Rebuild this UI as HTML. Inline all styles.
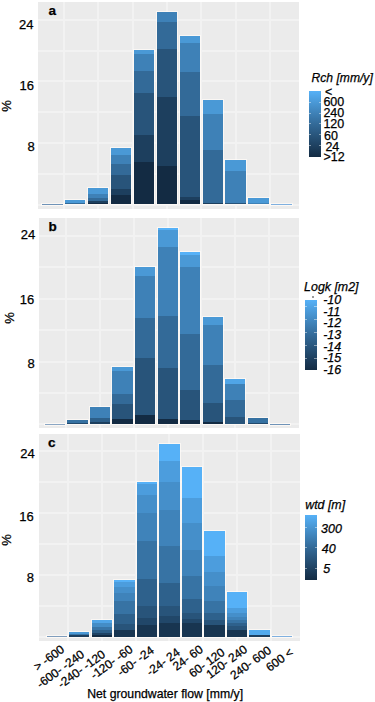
<!DOCTYPE html><html><head><meta charset="utf-8"><style>
html,body{margin:0;padding:0;background:#fff;}
body{width:375px;height:702px;position:relative;overflow:hidden;font-family:"Liberation Sans", sans-serif;color:#000;}
.a{position:absolute;}
.pn{position:absolute;background:#ebebeb;}
.gh{position:absolute;height:2px;background:#f2f2f2;}
.gv{position:absolute;width:2px;background:#f2f2f2;}
.t{position:absolute;white-space:nowrap;line-height:1;-webkit-text-stroke:0.25px #000;}
.bar{box-shadow:0 0 0 1px rgba(255,251,247,0.75);}
</style></head><body>
<div class="pn" style="left:38.4px;top:2.3px;width:260.9px;height:206.6px"></div>
<div class="gh" style="left:38.4px;top:203.5px;width:260.9px"></div>
<div class="gh" style="left:38.4px;top:172.74px;width:260.9px"></div>
<div class="gh" style="left:38.4px;top:141.98px;width:260.9px"></div>
<div class="gh" style="left:38.4px;top:111.22px;width:260.9px"></div>
<div class="gh" style="left:38.4px;top:80.46px;width:260.9px"></div>
<div class="gh" style="left:38.4px;top:49.7px;width:260.9px"></div>
<div class="gh" style="left:38.4px;top:18.94px;width:260.9px"></div>
<div class="gv" style="left:62.68px;top:2.3px;height:206.6px"></div>
<div class="gv" style="left:97.1px;top:2.3px;height:206.6px"></div>
<div class="gv" style="left:131.53px;top:2.3px;height:206.6px"></div>
<div class="gv" style="left:165.95px;top:2.3px;height:206.6px"></div>
<div class="gv" style="left:200.38px;top:2.3px;height:206.6px"></div>
<div class="gv" style="left:234.8px;top:2.3px;height:206.6px"></div>
<div class="gv" style="left:269.23px;top:2.3px;height:206.6px"></div>
<div class="a bar" style="left:41.88px;top:203.6px;width:20.65px;height:0.9px;background:#6f93b8"></div>
<div class="a bar" style="left:64.83px;top:199.7px;width:20.65px;height:4.8px;background:linear-gradient(to bottom,#4a99d6 0.0px 2.6px,#336a98 2.6px 3.7px,#132b43 3.7px 4.8px)"></div>
<div class="a bar" style="left:87.77px;top:187.9px;width:20.65px;height:16.6px;background:linear-gradient(to bottom,#4a99d6 0.0px 5.9px,#3e81b7 5.9px 9.7px,#336a98 9.7px 13.0px,#1d3f5e 13.0px 14.7px,#132b43 14.7px 16.6px)"></div>
<div class="a bar" style="left:110.72px;top:148.1px;width:20.65px;height:56.4px;background:linear-gradient(to bottom,#4a99d6 0.0px 7.3px,#3e81b7 7.3px 16.0px,#336a98 16.0px 27.3px,#28547a 27.3px 41.5px,#1d3f5e 41.5px 47.4px,#132b43 47.4px 56.4px)"></div>
<div class="a bar" style="left:133.68px;top:50.4px;width:20.65px;height:154.1px;background:linear-gradient(to bottom,#4a99d6 0.0px 4.5px,#3e81b7 4.5px 20.6px,#336a98 20.6px 43.0px,#28547a 43.0px 84.6px,#1d3f5e 84.6px 111.6px,#132b43 111.6px 154.1px)"></div>
<div class="a bar" style="left:156.62px;top:11.7px;width:20.65px;height:192.8px;background:linear-gradient(to bottom,#3e81b7 0.0px 10.1px,#336a98 10.1px 36.7px,#28547a 36.7px 85.3px,#1d3f5e 85.3px 154.2px,#132b43 154.2px 192.8px)"></div>
<div class="a bar" style="left:179.57px;top:35.6px;width:20.65px;height:168.9px;background:linear-gradient(to bottom,#4a99d6 0.0px 7.2px,#3e81b7 7.2px 36.1px,#336a98 36.1px 80.0px,#28547a 80.0px 161.0px,#1d3f5e 161.0px 163.8px,#132b43 163.8px 168.9px)"></div>
<div class="a bar" style="left:202.53px;top:99.6px;width:20.65px;height:104.9px;background:linear-gradient(to bottom,#4a99d6 0.0px 13.6px,#3e81b7 13.6px 50.2px,#336a98 50.2px 103.2px,#1d3f5e 103.2px 104.9px)"></div>
<div class="a bar" style="left:225.48px;top:160.3px;width:20.65px;height:44.2px;background:linear-gradient(to bottom,#4a99d6 0.0px 11.4px,#3e81b7 11.4px 43.0px,#28547a 43.0px 44.2px)"></div>
<div class="a bar" style="left:248.43px;top:197.9px;width:20.65px;height:6.6px;background:linear-gradient(to bottom,#4a99d6 0.0px 5.4px,#3e81b7 5.4px 6.6px)"></div>
<div class="a bar" style="left:271.38px;top:203.6px;width:20.65px;height:0.9px;background:#7fb0e0"></div>
<div class="t" style="left:48.5px;top:3.7px;font-size:13.5px;font-weight:bold;color:#000">a</div>
<div class="t" style="right:341.6px;top:17.5px;font-size:13px;color:#000">24</div>
<div class="t" style="right:341.1px;top:79.1px;font-size:13px;color:#000">16</div>
<div class="t" style="right:340.3px;top:139.9px;font-size:13px;color:#000">8</div>
<div class="t" style="left:5.6px;top:106.3px;font-size:13px;transform:translate(-50%,-50%) rotate(-90deg);color:#000">%</div>
<div class="pn" style="left:38.6px;top:217.8px;width:260.2px;height:210.7px"></div>
<div class="gh" style="left:38.6px;top:423.3px;width:260.2px"></div>
<div class="gh" style="left:38.6px;top:391.9px;width:260.2px"></div>
<div class="gh" style="left:38.6px;top:360.5px;width:260.2px"></div>
<div class="gh" style="left:38.6px;top:329.1px;width:260.2px"></div>
<div class="gh" style="left:38.6px;top:297.7px;width:260.2px"></div>
<div class="gh" style="left:38.6px;top:266.3px;width:260.2px"></div>
<div class="gh" style="left:38.6px;top:234.9px;width:260.2px"></div>
<div class="gv" style="left:65.31px;top:217.8px;height:210.7px"></div>
<div class="gv" style="left:99.09px;top:217.8px;height:210.7px"></div>
<div class="gv" style="left:132.87px;top:217.8px;height:210.7px"></div>
<div class="gv" style="left:166.65px;top:217.8px;height:210.7px"></div>
<div class="gv" style="left:200.43px;top:217.8px;height:210.7px"></div>
<div class="gv" style="left:234.21px;top:217.8px;height:210.7px"></div>
<div class="gv" style="left:267.99px;top:217.8px;height:210.7px"></div>
<div class="a bar" style="left:44.91px;top:423.5px;width:20.27px;height:0.8px;background:#8aa6c4"></div>
<div class="a bar" style="left:67.43px;top:419.6px;width:20.27px;height:4.7px;background:linear-gradient(to bottom,#3671a1 0.0px 2.9px,#22496c 2.9px 4.7px)"></div>
<div class="a bar" style="left:89.95px;top:407.1px;width:20.27px;height:17.2px;background:linear-gradient(to bottom,#3e81b7 0.0px 10.7px,#2d5f89 10.7px 14.7px,#1d3f5e 14.7px 17.2px)"></div>
<div class="a bar" style="left:112.47px;top:366.8px;width:20.27px;height:57.5px;background:linear-gradient(to bottom,#4a99d6 0.0px 4.3px,#3e81b7 4.3px 26.6px,#336a98 26.6px 37.3px,#28547a 37.3px 52.3px,#132b43 52.3px 57.5px)"></div>
<div class="a bar" style="left:135.0px;top:267.0px;width:20.27px;height:157.3px;background:linear-gradient(to bottom,#4a99d6 0.0px 8.7px,#3e81b7 8.7px 51.1px,#336a98 51.1px 91.2px,#28547a 91.2px 148.2px,#132b43 148.2px 157.3px)"></div>
<div class="a bar" style="left:157.51px;top:227.6px;width:20.27px;height:196.7px;background:linear-gradient(to bottom,#56b1f7 0.0px 2.1px,#4a99d6 2.1px 18.8px,#3e81b7 18.8px 88.3px,#336a98 88.3px 140.4px,#28547a 140.4px 190.8px,#132b43 190.8px 196.7px)"></div>
<div class="a bar" style="left:180.04px;top:251.5px;width:20.27px;height:172.8px;background:linear-gradient(to bottom,#56b1f7 0.0px 3.0px,#4a99d6 3.0px 15.2px,#3e81b7 15.2px 81.6px,#336a98 81.6px 138.5px,#28547a 138.5px 167.9px,#132b43 167.9px 172.8px)"></div>
<div class="a bar" style="left:202.56px;top:316.7px;width:20.27px;height:107.6px;background:linear-gradient(to bottom,#4a99d6 0.0px 7.6px,#3e81b7 7.6px 48.0px,#336a98 48.0px 85.9px,#28547a 85.9px 105.3px,#132b43 105.3px 107.6px)"></div>
<div class="a bar" style="left:225.07px;top:378.7px;width:20.27px;height:45.6px;background:linear-gradient(to bottom,#50a5e7 0.0px 5.3px,#3e81b7 5.3px 21.3px,#336a98 21.3px 38.2px,#28547a 38.2px 45.6px)"></div>
<div class="a bar" style="left:247.6px;top:417.6px;width:20.27px;height:6.7px;background:linear-gradient(to bottom,#3671a1 0.0px 4.9px,#22496c 4.9px 6.7px)"></div>
<div class="a bar" style="left:270.12px;top:423.6px;width:20.27px;height:0.7px;background:#6f93b8"></div>
<div class="t" style="left:48.5px;top:220.1px;font-size:13.5px;font-weight:bold;color:#000">b</div>
<div class="t" style="right:339.8px;top:228.0px;font-size:13px;color:#000">24</div>
<div class="t" style="right:340.8px;top:292.5px;font-size:13px;color:#000">16</div>
<div class="t" style="right:340.3px;top:357.0px;font-size:13px;color:#000">8</div>
<div class="t" style="left:9.4px;top:318.1px;font-size:13px;transform:translate(-50%,-50%) rotate(-90deg);color:#000">%</div>
<div class="pn" style="left:39.3px;top:434.2px;width:260.3px;height:207.1px"></div>
<div class="gh" style="left:39.3px;top:635.6px;width:260.3px"></div>
<div class="gh" style="left:39.3px;top:604.72px;width:260.3px"></div>
<div class="gh" style="left:39.3px;top:573.84px;width:260.3px"></div>
<div class="gh" style="left:39.3px;top:542.96px;width:260.3px"></div>
<div class="gh" style="left:39.3px;top:512.08px;width:260.3px"></div>
<div class="gh" style="left:39.3px;top:481.2px;width:260.3px"></div>
<div class="gh" style="left:39.3px;top:450.32px;width:260.3px"></div>
<div class="gv" style="left:67.02px;top:434.2px;height:207.1px"></div>
<div class="gv" style="left:100.83px;top:434.2px;height:207.1px"></div>
<div class="gv" style="left:134.64px;top:434.2px;height:207.1px"></div>
<div class="gv" style="left:168.45px;top:434.2px;height:207.1px"></div>
<div class="gv" style="left:202.26px;top:434.2px;height:207.1px"></div>
<div class="gv" style="left:236.07px;top:434.2px;height:207.1px"></div>
<div class="gv" style="left:269.88px;top:434.2px;height:207.1px"></div>
<div class="a bar" style="left:46.61px;top:635.7px;width:20.29px;height:0.9px;background:#7f9dbd"></div>
<div class="a bar" style="left:69.14px;top:631.8px;width:20.29px;height:4.8px;background:linear-gradient(to bottom,#4a99d6 0.0px 1.7px,#3875a7 1.7px 3.2px,#1d3f5e 3.2px 4.8px)"></div>
<div class="a bar" style="left:91.69px;top:620.0px;width:20.29px;height:16.6px;background:linear-gradient(to bottom,#50a5e7 0.0px 3.0px,#448dc6 3.0px 6.5px,#3875a7 6.5px 9.5px,#2d5f89 9.5px 12.5px,#1f4364 12.5px 14.8px,#132b43 14.8px 16.6px)"></div>
<div class="a bar" style="left:114.23px;top:580.1px;width:20.29px;height:56.5px;background:linear-gradient(to bottom,#56b1f7 0.0px 2.4px,#4c9ddd 2.4px 6.9px,#458fca 6.9px 12.9px,#3f83ba 12.9px 20.9px,#3773a4 20.9px 33.9px,#2e618c 33.9px 43.9px,#28547a 43.9px 49.9px,#183550 49.9px 56.5px)"></div>
<div class="a bar" style="left:136.76px;top:482.3px;width:20.29px;height:154.3px;background:linear-gradient(to bottom,#56b1f7 0.0px 2.0px,#4c9ddd 2.0px 12.7px,#458fca 12.7px 30.8px,#3f83ba 30.8px 59.3px,#3773a4 59.3px 96.9px,#2e618c 96.9px 124.2px,#28547a 124.2px 136.3px,#214769 136.3px 142.9px,#183550 142.9px 154.3px)"></div>
<div class="a bar" style="left:159.3px;top:444.0px;width:20.29px;height:192.6px;background:linear-gradient(to bottom,#56b1f7 0.0px 17.4px,#4c9ddd 17.4px 38.0px,#458fca 38.0px 66.5px,#3f83ba 66.5px 102.5px,#3773a4 102.5px 139.3px,#2e618c 139.3px 162.0px,#28547a 162.0px 172.2px,#214769 172.2px 178.5px,#183550 178.5px 192.6px)"></div>
<div class="a bar" style="left:181.84px;top:467.1px;width:20.29px;height:169.5px;background:linear-gradient(to bottom,#56b1f7 0.0px 30.6px,#4c9ddd 30.6px 55.6px,#458fca 55.6px 82.6px,#3f83ba 82.6px 109.0px,#3773a4 109.0px 132.0px,#2e618c 132.0px 145.6px,#28547a 145.6px 151.6px,#214769 151.6px 155.7px,#183550 155.7px 169.5px)"></div>
<div class="a bar" style="left:204.38px;top:531.2px;width:20.29px;height:105.4px;background:linear-gradient(to bottom,#56b1f7 0.0px 24.9px,#4c9ddd 24.9px 41.3px,#458fca 41.3px 55.3px,#3f83ba 55.3px 70.0px,#3773a4 70.0px 82.3px,#2e618c 82.3px 88.9px,#28547a 88.9px 93.8px,#183550 93.8px 105.4px)"></div>
<div class="a bar" style="left:226.92px;top:591.9px;width:20.29px;height:44.7px;background:linear-gradient(to bottom,#56b1f7 0.0px 15.9px,#4c9ddd 15.9px 20.6px,#458fca 20.6px 24.6px,#3f83ba 24.6px 28.1px,#3773a4 28.1px 31.1px,#2e618c 31.1px 34.1px,#28547a 34.1px 37.6px,#183550 37.6px 44.7px)"></div>
<div class="a bar" style="left:249.47px;top:629.7px;width:20.29px;height:6.9px;background:linear-gradient(to bottom,#52aaed 0.0px 5.1px,#1d3f5e 5.1px 6.9px)"></div>
<div class="a bar" style="left:272.0px;top:635.8px;width:20.29px;height:0.8px;background:#7fb0e0"></div>
<div class="t" style="left:48px;top:435.6px;font-size:13.5px;font-weight:bold;color:#000">c</div>
<div class="t" style="right:340.3px;top:447.3px;font-size:13px;color:#000">24</div>
<div class="t" style="right:341.3px;top:510.2px;font-size:13px;color:#000">16</div>
<div class="t" style="right:341.1px;top:571.1px;font-size:13px;color:#000">8</div>
<div class="t" style="left:5.6px;top:539.8px;font-size:13px;transform:translate(-50%,-50%) rotate(-90deg);color:#000">%</div>
<div class="t" style="left:311.6px;top:72.2px;font-size:12.1px;font-style:italic;color:#000">Rch [mm/y]</div>
<div class="a" style="left:308.5px;top:91.4px;width:12.6px;height:65.4px;background:linear-gradient(to bottom,#56b1f7,#336a98,#132b43)"></div>
<div class="a" style="left:308.5px;top:102.4px;width:2.6px;height:1px;background:rgba(255,255,255,0.45)"></div>
<div class="a" style="left:318.5px;top:102.4px;width:2.6px;height:1px;background:rgba(255,255,255,0.45)"></div>
<div class="a" style="left:308.5px;top:112.6px;width:2.6px;height:1px;background:rgba(255,255,255,0.45)"></div>
<div class="a" style="left:318.5px;top:112.6px;width:2.6px;height:1px;background:rgba(255,255,255,0.45)"></div>
<div class="a" style="left:308.5px;top:123.4px;width:2.6px;height:1px;background:rgba(255,255,255,0.45)"></div>
<div class="a" style="left:318.5px;top:123.4px;width:2.6px;height:1px;background:rgba(255,255,255,0.45)"></div>
<div class="a" style="left:308.5px;top:134.2px;width:2.6px;height:1px;background:rgba(255,255,255,0.45)"></div>
<div class="a" style="left:318.5px;top:134.2px;width:2.6px;height:1px;background:rgba(255,255,255,0.45)"></div>
<div class="a" style="left:308.5px;top:144.9px;width:2.6px;height:1px;background:rgba(255,255,255,0.45)"></div>
<div class="a" style="left:318.5px;top:144.9px;width:2.6px;height:1px;background:rgba(255,255,255,0.45)"></div>
<div class="t" style="left:324.9px;top:85.8px;font-size:12.5px;color:#000">&lt;</div>
<div class="t" style="left:323.4px;top:95.9px;font-size:12.5px;color:#000">600</div>
<div class="t" style="left:323.4px;top:106.5px;font-size:12.5px;color:#000">240</div>
<div class="t" style="left:323.4px;top:118.1px;font-size:12.5px;color:#000">120</div>
<div class="t" style="left:324.1px;top:129.8px;font-size:12.5px;color:#000">60</div>
<div class="t" style="left:325.4px;top:141.2px;font-size:12.5px;color:#000">24</div>
<div class="t" style="left:323.4px;top:151.2px;font-size:12.5px;color:#000">&gt;12</div>
<div class="t" style="left:304.1px;top:280.7px;font-size:12.4px;font-style:italic;color:#000">Logk [m2]</div>
<div class="a" style="left:304.6px;top:300.3px;width:12.4px;height:69.5px;background:linear-gradient(to bottom,#56b1f7,#336a98,#132b43)"></div>
<div class="a" style="left:304.6px;top:306.1px;width:2.6px;height:1px;background:rgba(255,255,255,0.45)"></div>
<div class="a" style="left:314.4px;top:306.1px;width:2.6px;height:1px;background:rgba(255,255,255,0.45)"></div>
<div class="a" style="left:304.6px;top:318.8px;width:2.6px;height:1px;background:rgba(255,255,255,0.45)"></div>
<div class="a" style="left:314.4px;top:318.8px;width:2.6px;height:1px;background:rgba(255,255,255,0.45)"></div>
<div class="a" style="left:304.6px;top:331.8px;width:2.6px;height:1px;background:rgba(255,255,255,0.45)"></div>
<div class="a" style="left:314.4px;top:331.8px;width:2.6px;height:1px;background:rgba(255,255,255,0.45)"></div>
<div class="a" style="left:304.6px;top:344.7px;width:2.6px;height:1px;background:rgba(255,255,255,0.45)"></div>
<div class="a" style="left:314.4px;top:344.7px;width:2.6px;height:1px;background:rgba(255,255,255,0.45)"></div>
<div class="a" style="left:304.6px;top:357.7px;width:2.6px;height:1px;background:rgba(255,255,255,0.45)"></div>
<div class="a" style="left:314.4px;top:357.7px;width:2.6px;height:1px;background:rgba(255,255,255,0.45)"></div>
<div class="t" style="left:323.2px;top:294.2px;font-size:12.5px;font-style:italic;color:#000">-10</div>
<div class="t" style="left:323.2px;top:305.9px;font-size:12.5px;font-style:italic;color:#000">-11</div>
<div class="t" style="left:323.2px;top:317.2px;font-size:12.5px;font-style:italic;color:#000">-12</div>
<div class="t" style="left:323.2px;top:328.8px;font-size:12.5px;font-style:italic;color:#000">-13</div>
<div class="t" style="left:323.2px;top:340.6px;font-size:12.5px;font-style:italic;color:#000">-14</div>
<div class="t" style="left:323.2px;top:352.2px;font-size:12.5px;font-style:italic;color:#000">-15</div>
<div class="t" style="left:323.2px;top:364.2px;font-size:12.5px;font-style:italic;color:#000">-16</div>
<div class="t" style="left:305.2px;top:499.3px;font-size:12.4px;font-style:italic;color:#000">wtd [m]</div>
<div class="a" style="left:304.6px;top:515.2px;width:12.8px;height:65.1px;background:linear-gradient(to bottom,#56b1f7,#336a98,#132b43)"></div>
<div class="a" style="left:304.6px;top:526.6px;width:2.6px;height:1px;background:rgba(255,255,255,0.45)"></div>
<div class="a" style="left:314.8px;top:526.6px;width:2.6px;height:1px;background:rgba(255,255,255,0.45)"></div>
<div class="a" style="left:304.6px;top:547.1px;width:2.6px;height:1px;background:rgba(255,255,255,0.45)"></div>
<div class="a" style="left:314.8px;top:547.1px;width:2.6px;height:1px;background:rgba(255,255,255,0.45)"></div>
<div class="a" style="left:304.6px;top:567.7px;width:2.6px;height:1px;background:rgba(255,255,255,0.45)"></div>
<div class="a" style="left:314.8px;top:567.7px;width:2.6px;height:1px;background:rgba(255,255,255,0.45)"></div>
<div class="t" style="left:321.1px;top:523.4px;font-size:12.5px;font-style:italic;color:#000">300</div>
<div class="t" style="left:321.7px;top:542.6px;font-size:12.5px;font-style:italic;color:#000">40</div>
<div class="t" style="left:323.2px;top:562.9px;font-size:12.5px;font-style:italic;color:#000">5</div>
<div class="a" style="left:312px;top:296px;width:2px;height:2px;background:#9a9a9a"></div>
<div class="t" style="right:315.65px;top:642.7px;font-size:12px;transform-origin:100% 0;transform:rotate(-36deg);color:#000">&gt; -600</div>
<div class="t" style="right:295.51px;top:647.6px;font-size:12px;transform-origin:100% 0;transform:rotate(-36deg);color:#000">-600- -240</div>
<div class="t" style="right:274.57px;top:647.9px;font-size:12px;transform-origin:100% 0;transform:rotate(-36deg);color:#000">-240- -120</div>
<div class="t" style="right:247.13px;top:643.2px;font-size:12px;transform-origin:100% 0;transform:rotate(-36deg);color:#000">-120- -60</div>
<div class="t" style="right:226.09px;top:643.9px;font-size:12px;transform-origin:100% 0;transform:rotate(-36deg);color:#000">-60- -24</div>
<div class="t" style="right:200.15px;top:645.9px;font-size:12px;transform-origin:100% 0;transform:rotate(-36deg);color:#000">-24- 24</div>
<div class="t" style="right:177.11px;top:643.2px;font-size:12px;transform-origin:100% 0;transform:rotate(-36deg);color:#000">24- 60</div>
<div class="t" style="right:155.17px;top:645.9px;font-size:12px;transform-origin:100% 0;transform:rotate(-36deg);color:#000">60- 120</div>
<div class="t" style="right:132.53px;top:642.8px;font-size:12px;transform-origin:100% 0;transform:rotate(-36deg);color:#000">120- 240</div>
<div class="t" style="right:108.79px;top:643.9px;font-size:12px;transform-origin:100% 0;transform:rotate(-36deg);color:#000">240- 600</div>
<div class="t" style="right:86.25px;top:646.0px;font-size:12px;transform-origin:100% 0;transform:rotate(-36deg);color:#000">600 &lt;</div>
<div class="t" style="left:87.2px;top:687.5px;font-size:12.25px;color:#000">Net groundwater flow [mm/y]</div>
</body></html>
